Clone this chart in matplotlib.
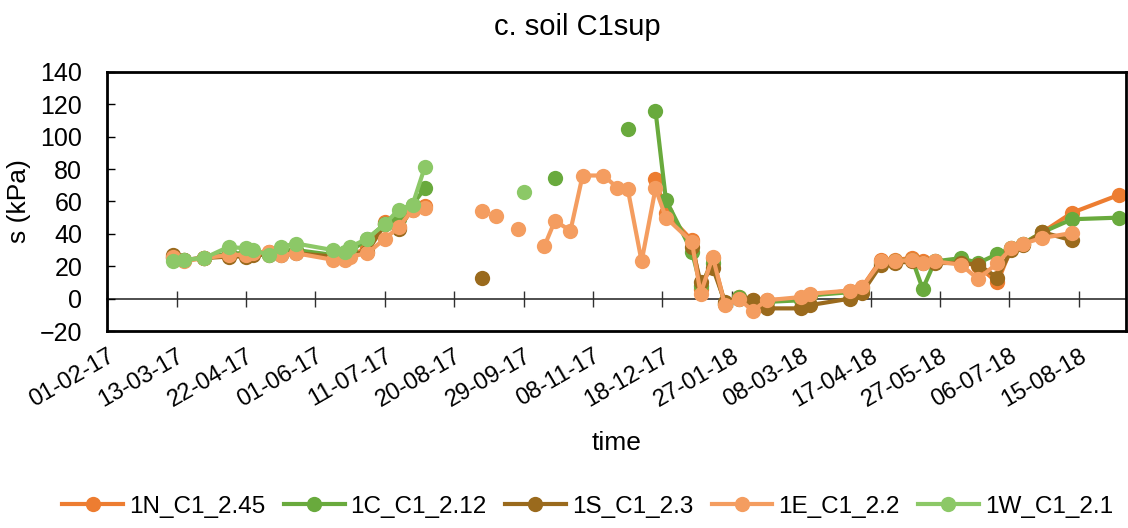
import numpy as np
import pandas as pd
import matplotlib
matplotlib.use('Agg')
import matplotlib.pyplot as plt
import matplotlib.dates as mdates

plt.rcParams['font.family'] = ['Liberation Sans', 'DejaVu Sans']

# measurement dates shared by most of the sensors
early = ['2017-03-11', '2017-03-17', '2017-03-29', '2017-04-12', '2017-04-22', '2017-04-26',
         '2017-05-05', '2017-05-12', '2017-05-21', '2017-06-11', '2017-06-18', '2017-06-21',
         '2017-07-01', '2017-07-11', '2017-07-19', '2017-07-27', '2017-08-03']
late = ['2018-01-04', '2018-01-09', '2018-01-16', '2018-01-23', '2018-01-31', '2018-02-08',
        '2018-02-16', '2018-03-08', '2018-03-13', '2018-04-05', '2018-04-12', '2018-04-23',
        '2018-05-01', '2018-05-11', '2018-05-17', '2018-05-24', '2018-06-08', '2018-06-18',
        '2018-06-29', '2018-07-07', '2018-07-14', '2018-07-25', '2018-08-11', '2018-09-07']

# None = gap in the record (line is broken there)
dates_1N = early + ['2017-10-01', '2017-12-14', '2017-12-20'] + late
vals_1N = [26, 24, 25, 27, 28, 28, 29, 28, 29, 26, 26, 27, 31, 47, 44, 55, 57,
           None, 74, 53,
           36, 6, 25, -3, 1, -1, -1, 0, 2, 5, 7, 24, 24, 25, 23, 23, 23, 20, 10, 31, 34, 41, 53, 64]

dates_1C = early + ['2017-10-01', '2017-10-17', '2017-11-10', '2017-11-28', '2017-12-06',
                    '2017-12-14', '2017-12-20'] + late
vals_1C = [25, 24, 25, 28, 28, 28, 28, 29, 30, 27, 28, 29, 37, 46, 49, 58, 68,
           None, 74.5, None, 105, None, 116, 61,
           29, 8, 22, -3, 1, -2, -2, -1, 2, 4, 6, 22, 23, 24, 6, 23, 25, 22, 27.5, 31, 34, 41, 49, 50]

dates_1S = early[:16] + ['2017-08-20', '2017-09-05', '2017-10-01'] + late[:23]
vals_1S = [27, 24, 25, 26, 26, 27, 27, 27, 28, 26, 25, 27, 29, 46, 43, 56,
           None, 13, None,
           32, 10, 19, -2, 0, -1, -6, -6, -4, 0, 3.5, 21, 22, 23, 22, 22, 22, 21, 13, 30, 33, 41, 36]

dates_1E = early + ['2017-08-20', '2017-09-05', '2017-09-09', '2017-09-13', '2017-09-20', '2017-09-26',
                    '2017-10-03', '2017-10-11', '2017-10-17', '2017-10-26', '2017-11-02', '2017-11-14',
                    '2017-11-22', '2017-11-28', '2017-12-06', '2017-12-14', '2017-12-20'] + late[:23]
vals_1E = [26, 23, 25, 27, 27, 28, 29, 27, 28, 24, 24, 26, 28, 37, 44, 55, 56,
           None, 54, None, 51, None, 43, None,
           32.5, 48, 42, 76, 76, 68.5, 67.7, 23, 68, 50,
           35, 3, 26, -4, 0, -7.5, -1, 1, 3, 5, 7, 23, 23, 24, 22, 23, 21, 12, 22, 31, 34, 37.5, 40.5]

dates_1W = early + ['2017-09-01', '2017-09-29']
vals_1W = [23, 24, 25, 32, 31, 30, 27, 32, 34, 30, 29, 32, 37, 46, 55, 58, 81,
           None, 66]

series = [
    ('1N_C1_2.45', dates_1N, vals_1N, '#ED7D31'),
    ('1C_C1_2.12', dates_1C, vals_1C, '#69AA3D'),
    ('1S_C1_2.3', dates_1S, vals_1S, '#9A6A1D'),
    ('1E_C1_2.2', dates_1E, vals_1E, '#F49D60'),
    ('1W_C1_2.1', dates_1W, vals_1W, '#8CC867'),
]

tick_dates = pd.date_range('2017-02-01', periods=15, freq='40D')

fig = plt.figure(figsize=(11.28, 5.28), dpi=100)
ax = fig.add_axes([0.095, 0.373, 0.903, 0.491])

for name, d, v, c in series:
    y = np.array([np.nan if x is None else x for x in v], dtype=float)
    ax.plot(pd.to_datetime(d), y, color=c, lw=3, marker='o', ms=11,
            markeredgewidth=0, label=name)

ax.set_xlim(pd.Timestamp('2017-02-01'), pd.Timestamp('2018-09-11'))
ax.set_ylim(-20, 140)
ax.set_yticks(np.arange(-20, 141, 20))

ax.set_xticks(tick_dates)
ax.xaxis.set_major_formatter(mdates.DateFormatter('%d-%m-%y'))
ax.tick_params(axis='x', length=0, pad=10, labelsize=17)
for lab in ax.get_xticklabels():
    lab.set_rotation(30)
    lab.set_ha('right')
    lab.set_va('top')
    lab.set_rotation_mode('anchor')
ax.tick_params(axis='y', direction='in', length=6, width=1, pad=18, labelsize=18)

for sp in ax.spines.values():
    sp.set_linewidth(2)
    sp.set_color('black')

# horizontal axis drawn across y = 0, with its tick marks
zero_ax = ax.secondary_xaxis(20 / 160)
zero_ax.set_xticks(tick_dates)
zero_ax.tick_params(direction='inout', length=11, width=1, labelbottom=False, color='#303030')
zero_ax.spines['bottom'].set_linewidth(1.2)
zero_ax.spines['bottom'].set_color('#303030')

ax.set_ylabel('s (kPa)', fontsize=19, labelpad=6)
ax.set_xlabel('time', fontsize=19)
ax.xaxis.set_label_coords(0.5, -0.385)

fig.text(0.512, 0.949, 'c. soil C1sup', fontsize=21, ha='center', va='center')

fig.legend(loc='center', bbox_to_anchor=(0.521, 0.04), ncol=5, frameon=False,
           fontsize=17.5, handlelength=2.5, handletextpad=0.25, columnspacing=0.75)

fig.savefig('out.png', dpi=100)
